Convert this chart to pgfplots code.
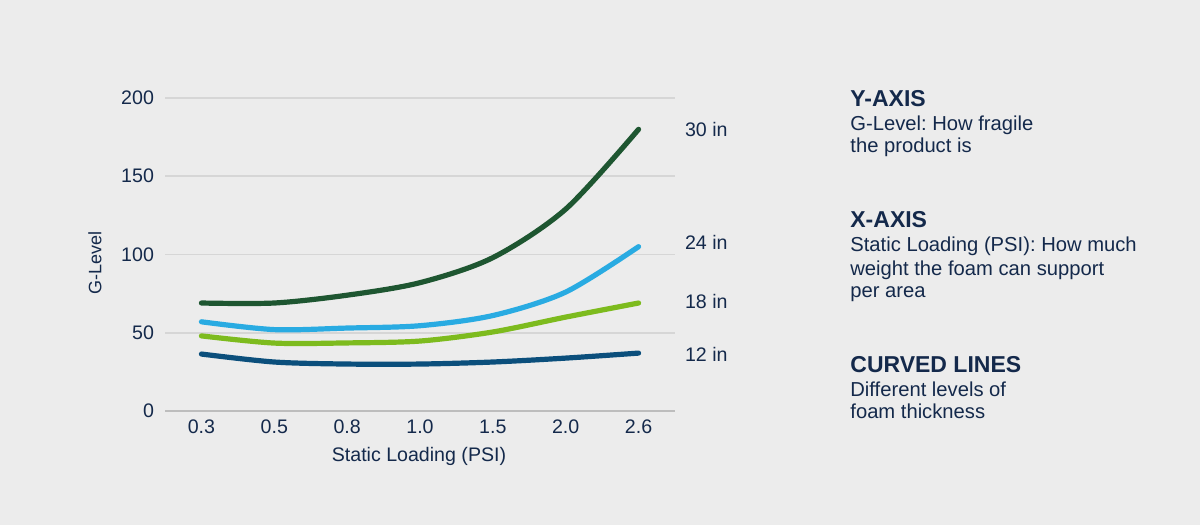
\documentclass[border=0pt]{standalone}
\usepackage{pgfplots}
\pgfplotsset{compat=1.18}
\usepackage{fontspec}
\setmainfont{Liberation Sans}
\frenchspacing
\definecolor{bg}{HTML}{ECECEC}
\definecolor{navy}{HTML}{14294B}
\definecolor{gridc}{HTML}{D6D6D6}
\definecolor{axc}{HTML}{BDBDBD}
\definecolor{dgreen}{HTML}{1E5631}
\definecolor{lblue}{HTML}{29ABE2}
\definecolor{lgreen}{HTML}{7DBB1E}
\definecolor{dblue}{HTML}{0B4F7C}
\begin{document}
\begin{tikzpicture}
\fill[bg] (0,0) rectangle (600pt,262.5pt);
\begin{axis}[
  at={(82.5pt,57pt)}, anchor=south west,
  scale only axis, width=255pt, height=156.5pt,
  xmin=-0.5, xmax=6.5, ymin=0, ymax=200,
  xtick={0,...,6}, xticklabels={0.3,0.5,0.8,1.0,1.5,2.0,2.6},
  ytick={0,50,100,150,200},
  axis line style={draw=none}, axis x line*=bottom, axis y line*=left,
  major tick length=0pt,
  ymajorgrids, grid style={gridc, line width=0.8pt},
  tick label style={font=\fontsize{9.8}{12}\selectfont, text=navy},
  /pgf/number format/assume math mode=true,
  yticklabel style={xshift=-2pt},
  xticklabel style={yshift=-1pt},
  clip=false,
  every axis plot/.append style={line width=2.6pt, smooth, tension=0.5, line cap=round},
]
\draw[axc, line width=0.8pt] (axis cs:-0.5,0) -- (axis cs:6.5,0);
\addplot[dgreen] coordinates {(0,69) (1,69) (2,74) (3,82) (4,98) (5,129) (6,180)};
\addplot[lblue] coordinates {(0,57) (1,52) (2,53) (3,54.5) (4,61) (5,76) (6,105)};
\addplot[lgreen] coordinates {(0,48) (1,43.4) (2,43.5) (3,44.7) (4,50.5) (5,60) (6,69)};
\addplot[dblue] coordinates {(0,36.4) (1,31.3) (2,30) (3,30) (4,31.3) (5,33.8) (6,37)};
\begin{scope}[every node/.style={anchor=west, text=navy, font=\fontsize{9.8}{12}\selectfont}]
\node at ([xshift=1.5pt]axis cs:6.5,180) {30 in};
\node at ([xshift=1.5pt]axis cs:6.5,108) {24 in};
\node at ([xshift=1.5pt]axis cs:6.5,70) {18 in};
\node at ([xshift=1.5pt]axis cs:6.5,36) {12 in};
\end{scope}
\end{axis}
\node[anchor=base, text=navy, font=\fontsize{9.8}{12}\selectfont] at (209.5pt,31.5pt) {Static Loading (PSI)};
\node[rotate=90, text=navy, font=\fontsize{9}{11}\selectfont] at (47.5pt,131pt) {G-Level};
\begin{scope}[every node/.style={anchor=base west, text=navy, inner sep=0pt}]
\def\hd{\fontsize{11.5}{13}\bfseries}
\def\bd{\fontsize{10.1}{12}\selectfont}
\node[font=\hd] at (425pt,209pt) {Y-AXIS};
\node[font=\bd] at (425pt,197pt) {G-Level: How fragile};
\node[font=\bd] at (425pt,186pt) {the product is};
\node[font=\hd] at (425pt,148.5pt) {X-AXIS};
\node[font=\bd] at (425pt,136.5pt) {Static Loading (PSI): How much};
\node[font=\bd] at (425pt,124.5pt) {weight the foam can support};
\node[font=\bd] at (425pt,113.5pt) {per area};
\node[font=\hd] at (425pt,76pt) {CURVED LINES};
\node[font=\bd] at (425pt,64pt) {Different levels of};
\node[font=\bd] at (425pt,53pt) {foam thickness};
\end{scope}
\end{tikzpicture}
\end{document}
